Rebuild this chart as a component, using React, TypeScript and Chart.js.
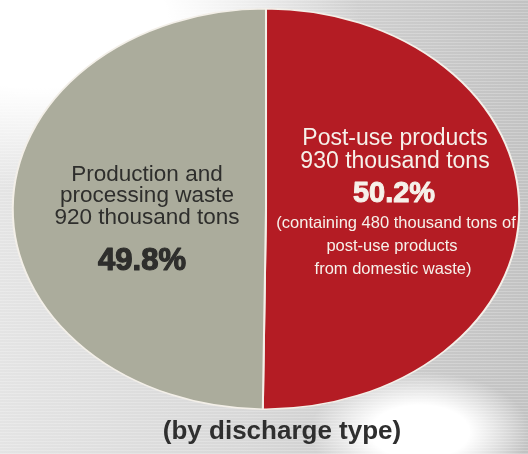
import React, { useEffect, useRef } from "react";
import { Chart, registerables } from "chart.js";

Chart.register(...registerables);

// ---- data ----
const categories = ["Post-use products", "Production and processing waste"];
const amountsThousandTons = [930, 920];
const percents = [50.2, 49.8];
const sliceColors = ["#b41c24", "#abac9c"];
const redLabelLines = ["Post-use products", `${amountsThousandTons[0]} thousand tons`];
const redNoteLines = ["(containing 480 thousand tons of", "post-use products", "from domestic waste)"];
const grayLabelLines = ["Production and", "processing waste", `${amountsThousandTons[1]} thousand tons`];
const chartTitle = "(by discharge type)";

const W = 528;
const H = 454;
const SX = 253 / 200; // horizontal stretch to make the pie an ellipse
const FONT = '"Liberation Sans", Arial, Helvetica, sans-serif';

const ellipsePlugin = {
  id: "ellipse",
  beforeDatasetsDraw(chart: any) {
    const arc = chart.getDatasetMeta(0).data[0];
    if (!arc) return;
    const ctx = chart.ctx;
    ctx.save();
    ctx.translate(arc.x, arc.y);
    ctx.scale(SX, 1);
    ctx.translate(-arc.x, -arc.y);
  },
  afterDatasetsDraw(chart: any) {
    chart.ctx.restore();
  },
};

const labelPlugin = {
  id: "sliceLabels",
  afterDraw(chart: any) {
    const arc = chart.getDatasetMeta(0).data[0];
    if (!arc) return;
    const ctx = chart.ctx;
    const cx = arc.x;
    const cy = arc.y;
    ctx.save();
    ctx.textAlign = "center";
    ctx.textBaseline = "alphabetic";
    ctx.lineJoin = "round";

    // red slice (right)
    const rx = cx + 129;
    ctx.fillStyle = "#f6f1ea";
    ctx.strokeStyle = "#f6f1ea";
    ctx.font = `23px ${FONT}`;
    ctx.fillText(redLabelLines[0], rx, cy - 64);
    ctx.fillText(redLabelLines[1], rx, cy - 41);
    ctx.font = `bold 29px ${FONT}`;
    ctx.lineWidth = 1;
    ctx.strokeText(`${percents[0]}%`, rx - 1, cy - 7);
    ctx.fillText(`${percents[0]}%`, rx - 1, cy - 7);
    ctx.font = `16.5px ${FONT}`;
    ctx.fillText(redNoteLines[0], rx + 1, cy + 19);
    ctx.fillText(redNoteLines[1], rx - 3, cy + 42);
    ctx.fillText(redNoteLines[2], rx - 2, cy + 65);

    // gray slice (left)
    const lx = cx - 119;
    ctx.fillStyle = "#2e2e2c";
    ctx.strokeStyle = "#2e2e2c";
    ctx.font = `22.5px ${FONT}`;
    ctx.fillText(grayLabelLines[0], lx, cy - 28);
    ctx.fillText(grayLabelLines[1], lx, cy - 7);
    ctx.fillText(grayLabelLines[2], lx, cy + 15);
    ctx.font = `bold 31px ${FONT}`;
    ctx.lineWidth = 1.2;
    ctx.strokeText(`${percents[1]}%`, lx - 5, cy + 61);
    ctx.fillText(`${percents[1]}%`, lx - 5, cy + 61);

    // title
    ctx.fillStyle = "#2f2f2f";
    ctx.font = `bold 26px ${FONT}`;
    ctx.fillText(chartTitle, 282, 439);
    ctx.restore();
  },
};

export default function App() {
  const ref = useRef<HTMLCanvasElement | null>(null);

  useEffect(() => {
    if (!ref.current) return;
    const chart = new Chart(ref.current, {
      type: "pie",
      data: {
        labels: categories,
        datasets: [
          {
            data: percents,
            backgroundColor: sliceColors,
            borderColor: "#f3efe8",
            borderWidth: 1.6,
            clip: false as any,
          },
        ],
      },
      options: {
        responsive: false,
        animation: false,
        events: [],
        layout: { padding: { top: 8, bottom: 44, left: 10, right: 6 } },
        plugins: {
          legend: { display: false },
          tooltip: { enabled: false },
          title: { display: false },
        },
      },
      plugins: [ellipsePlugin, labelPlugin],
    });
    return () => chart.destroy();
  }, []);

  const background = [
    "radial-gradient(ellipse 110px 60px at 420px 432px, #ffffff 45%, rgba(255,255,255,0) 100%)",
    "radial-gradient(ellipse 320px 170px at 40px 20px, #ffffff 40%, rgba(255,255,255,0) 100%)",
    "repeating-linear-gradient(0deg, rgba(255,255,255,0.22) 0px, rgba(255,255,255,0.22) 1px, rgba(0,0,0,0) 1px, rgba(0,0,0,0) 3px)",
    "linear-gradient(to right, #e4e4e4 0%, #d8d8d8 45%, #c2c2c2 100%)",
  ].join(", ");

  return (
    <div
      style={{
        position: "fixed",
        left: 0,
        top: 0,
        width: W,
        height: H,
        background,
        overflow: "hidden",
      }}
    >
      <canvas ref={ref} width={W} height={H} style={{ display: "block" }} />
    </div>
  );
}
